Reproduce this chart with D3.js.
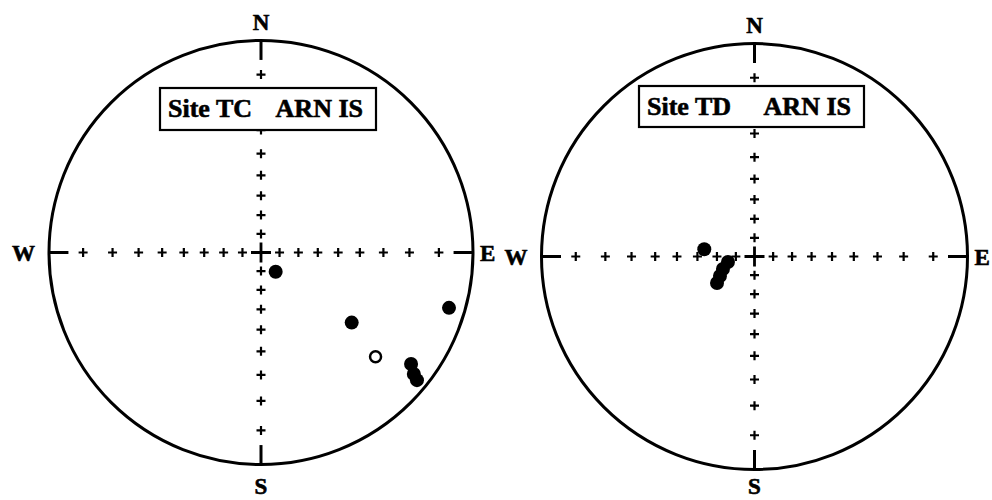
<!DOCTYPE html>
<html>
<head>
<meta charset="utf-8">
<script src="https://cdn.jsdelivr.net/npm/d3@7"></script>
<style>
  html, body { margin: 0; padding: 0; background: #fff; }
  svg { display: block; }
  text {
    font-family: "Liberation Serif", "Times New Roman", serif;
    font-weight: bold;
    fill: #000;
    stroke: #000;
    stroke-width: 0.6px;
  }
</style>
</head>
<body>
<svg id="chart" width="992" height="500"></svg>
<script>
// Cardinal labels, clockwise from north
const cardinals = ['N', 'E', 'S', 'W'];
const cardinalDecs = [0, 90, 180, 270];

// Graticule crosses every 10 degrees of inclination along the axes
const tickIncs = [10, 20, 30, 40, 50, 60, 70, 80];

// Site TC (negative inclination = upper hemisphere, open symbol)
const tcTitle = ['Site TC', 'ARN IS'];
const tcDec = [142.6, 127.7, 106.4, 132.3, 126.6, 128.5, 129.3];
const tcInc = [77.0, 33.2, 4.5, -17.7, 7.2, 4.7, 2.9];

// Site TD
const tdTitle = ['Site TD', 'ARN IS'];
const tdDec = [278.2, 258.3, 248.4, 240.5, 234.8];
const tdInc = [63.2, 75.5, 71.9, 68.9, 65.7];

const svg = d3.select('#chart');

// one equal-angle (stereographic) net
const drawNet = (opts) => {
  const { cx, cy, r, box, title, dec, inc } = opts;

  // pole of the net = vertical down direction; declination runs clockwise from N
  const proj = d3.geoStereographic()
    .scale(r)
    .translate([cx, cy])
    .rotate([0, -90])
    .clipAngle(179);
  const toXY = (d, i) => proj([180 - d, Math.abs(i)]);

  const g = svg.append('g');

  // primitive circle
  g.append('circle')
    .attr('cx', cx).attr('cy', cy).attr('r', r)
    .attr('fill', 'none').attr('stroke', '#000').attr('stroke-width', 3);

  // short ticks at the four cardinal points, pointing inward
  cardinalDecs.forEach((d) => {
    const [x0, y0] = toXY(d, 0);
    const [x1, y1] = toXY(d, 5.5);
    g.append('line')
      .attr('x1', x0).attr('y1', y0).attr('x2', x1).attr('y2', y1)
      .attr('stroke', '#000').attr('stroke-width', 3);
  });

  // small crosses along N-S and E-W axes
  const crosses = [];
  cardinalDecs.forEach((d) => tickIncs.forEach((i) => crosses.push(toXY(d, i))));
  const arm = 4.5;
  g.selectAll('path.cross')
    .data(crosses)
    .enter()
    .append('path')
    .attr('class', 'cross')
    .attr('d', ([x, y]) => `M${x - arm},${y}H${x + arm}M${x},${y - arm}V${y + arm}`)
    .attr('stroke', '#000').attr('stroke-width', 2.2);

  // centre cross
  const [px, py] = toXY(0, 90);
  g.append('path')
    .attr('d', `M${px - 10},${py}H${px + 10}M${px},${py - 10}V${py + 10}`)
    .attr('stroke', '#000').attr('stroke-width', 2.8);

  // cardinal labels
  const labelPos = {
    N: [cx, cy - r - 11, 'middle'],
    S: [cx, 494, 'middle'],
    E: [cx + r + 7, cy + 8, 'start'],
    W: [cx - r - 14, cy + 8, 'end'],
  };
  cardinals.forEach((c) => {
    const [x, y, anchor] = labelPos[c];
    g.append('text')
      .attr('x', x).attr('y', y)
      .attr('text-anchor', anchor)
      .attr('font-size', 23)
      .text(c);
  });

  // title box
  g.append('rect')
    .attr('x', box.x).attr('y', box.y)
    .attr('width', box.w).attr('height', box.h)
    .attr('fill', '#fff').attr('stroke', '#000').attr('stroke-width', 2.2);
  g.append('text')
    .attr('x', box.x + 8).attr('y', box.y + 29)
    .attr('font-size', 26)
    .text(title[0]);
  g.append('text')
    .attr('x', box.x + box.w - 13).attr('y', box.y + 29)
    .attr('text-anchor', 'end')
    .attr('font-size', 26)
    .text(title[1]);

  // directions
  const pts = dec.map((d, k) => ({ dec: d, inc: inc[k] }));
  g.selectAll('circle.dir')
    .data(pts)
    .enter()
    .append('circle')
    .attr('class', 'dir')
    .attr('cx', (d) => toXY(d.dec, d.inc)[0])
    .attr('cy', (d) => toXY(d.dec, d.inc)[1])
    .attr('r', (d) => (d.inc < 0 ? 5.5 : 7))
    .attr('fill', (d) => (d.inc < 0 ? '#fff' : '#000'))
    .attr('stroke', '#000')
    .attr('stroke-width', (d) => (d.inc < 0 ? 2.5 : 0));
};

drawNet({
  cx: 261, cy: 252.5, r: 212,
  box: { x: 160, y: 88, w: 216, h: 42 },
  title: tcTitle, dec: tcDec, inc: tcInc,
});

drawNet({
  cx: 754.5, cy: 256.5, r: 213,
  box: { x: 639, y: 86, w: 225, h: 41 },
  title: tdTitle, dec: tdDec, inc: tdInc,
});
</script>
</body>
</html>
